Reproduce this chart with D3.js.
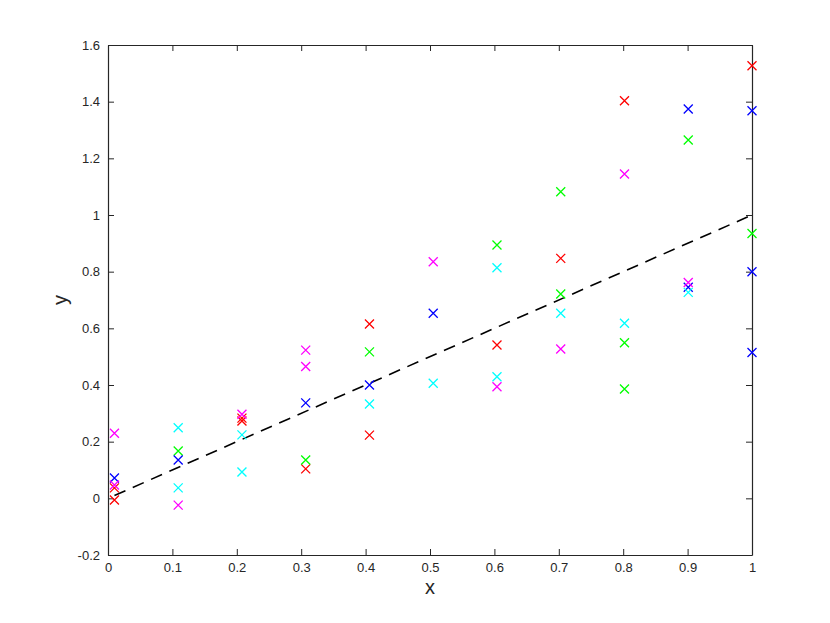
<!DOCTYPE html>
<html>
<head>
<meta charset="utf-8">
<script src="https://cdn.jsdelivr.net/npm/d3@7"></script>
<style>
  body { margin: 0; background: #fff; }
  svg text { font-family: "Liberation Sans", Arial, Helvetica, sans-serif; fill: #262626; }
</style>
</head>
<body>
<svg id="chart" width="830" height="623"></svg>
<script>
// punti, [x, y] per colore
const redPts = [[0.01,-0.006],[0.01,0.037],[0.208,0.283],[0.208,0.273],[0.307,0.104],[0.406,0.615],[0.406,0.223],[0.604,0.541],[0.703,0.847],[0.802,1.403],[1.0,1.527]];
const greenPts = [[0.109,0.167],[0.307,0.135],[0.406,0.517],[0.604,0.894],[0.703,1.082],[0.703,0.721],[0.802,0.549],[0.802,0.386],[0.901,1.265],[1.0,0.935]];
const bluePts = [[0.01,0.072],[0.109,0.135],[0.307,0.337],[0.406,0.40],[0.505,0.653],[0.901,1.374],[0.901,0.745],[1.0,1.368],[1.0,0.80],[1.0,0.515]];
const cyanPts = [[0.109,0.249],[0.109,0.037],[0.208,0.224],[0.208,0.093],[0.406,0.333],[0.505,0.406],[0.604,0.814],[0.604,0.429],[0.703,0.653],[0.802,0.618],[0.901,0.727]];
const magentaPts = [[0.01,0.23],[0.01,0.047],[0.109,-0.024],[0.208,0.297],[0.307,0.523],[0.307,0.465],[0.505,0.835],[0.604,0.394],[0.703,0.527],[0.802,1.145],[0.901,0.762]];

const fitLine = [[0.01, 0.01], [1.0, 1.0]];

const xTicks = [0, 0.1, 0.2, 0.3, 0.4, 0.5, 0.6, 0.7, 0.8, 0.9, 1];
const yTicks = [-0.2, 0, 0.2, 0.4, 0.6, 0.8, 1, 1.2, 1.4, 1.6];

const series = [
    { pts: redPts, color: "#ff0000" },
    { pts: greenPts, color: "#00ff00" },
    { pts: bluePts, color: "#0000ff" },
    { pts: cyanPts, color: "#00ffff" },
    { pts: magentaPts, color: "#ff00ff" }
];

const plotL = 108, plotR = 752, plotT = 45, plotB = 555;
const svg = d3.select("#chart");

const x = d3.scaleLinear().domain([0, 1]).range([plotL, plotR]);
const y = d3.scaleLinear().domain([-0.2, 1.6]).range([plotB, plotT]);

const axisColor = "#262626";
const tickLen = 6;

// assi con tacche interne su tutti e quattro i lati
const fmt = d => String(+d.toFixed(1));

const gB = svg.append("g").attr("transform", `translate(0,${plotB})`)
    .call(d3.axisBottom(x).tickValues(xTicks).tickSizeInner(-tickLen).tickSizeOuter(0).tickPadding(8).tickFormat(fmt));
const gT = svg.append("g").attr("transform", `translate(0,${plotT})`)
    .call(d3.axisTop(x).tickValues(xTicks).tickSizeInner(-tickLen).tickSizeOuter(0).tickFormat(""));
const gL = svg.append("g").attr("transform", `translate(${plotL},0)`)
    .call(d3.axisLeft(y).tickValues(yTicks).tickSizeInner(-tickLen).tickSizeOuter(0).tickPadding(8).tickFormat(fmt));
const gR = svg.append("g").attr("transform", `translate(${plotR},0)`)
    .call(d3.axisRight(y).tickValues(yTicks).tickSizeInner(-tickLen).tickSizeOuter(0).tickFormat(""));

[gB, gT, gL, gR].forEach(g => {
    g.select(".domain").attr("stroke", axisColor).attr("stroke-width", 1.2);
    g.selectAll(".tick line").attr("stroke", axisColor).attr("stroke-width", 1);
    g.selectAll(".tick text").attr("fill", axisColor).style("font-size", "13px");
});

// linea tratteggiata
svg.append("line")
    .attr("x1", x(fitLine[0][0])).attr("y1", y(fitLine[0][1]))
    .attr("x2", x(fitLine[1][0])).attr("y2", y(fitLine[1][1]))
    .attr("stroke", "#000")
    .attr("stroke-width", 1.6)
    .attr("stroke-dasharray", "12,8");

// marcatori a croce
const s = 4.5;
series.forEach(ser => {
    svg.append("g").selectAll("path")
        .data(ser.pts)
        .enter()
        .append("path")
        .attr("d", d => {
            const cx = x(d[0]), cy = y(d[1]);
            return `M${cx - s},${cy - s}L${cx + s},${cy + s}M${cx - s},${cy + s}L${cx + s},${cy - s}`;
        })
        .attr("stroke", ser.color)
        .attr("stroke-width", 1.3)
        .attr("fill", "none");
});

// etichette assi
svg.append("text")
    .attr("x", (plotL + plotR) / 2)
    .attr("y", 594)
    .attr("text-anchor", "middle")
    .style("font-size", "20px")
    .text("x");

svg.append("text")
    .attr("transform", `translate(67,${(plotT + plotB) / 2}) rotate(-90)`)
    .attr("text-anchor", "middle")
    .style("font-size", "20px")
    .text("y");
</script>
</body>
</html>
